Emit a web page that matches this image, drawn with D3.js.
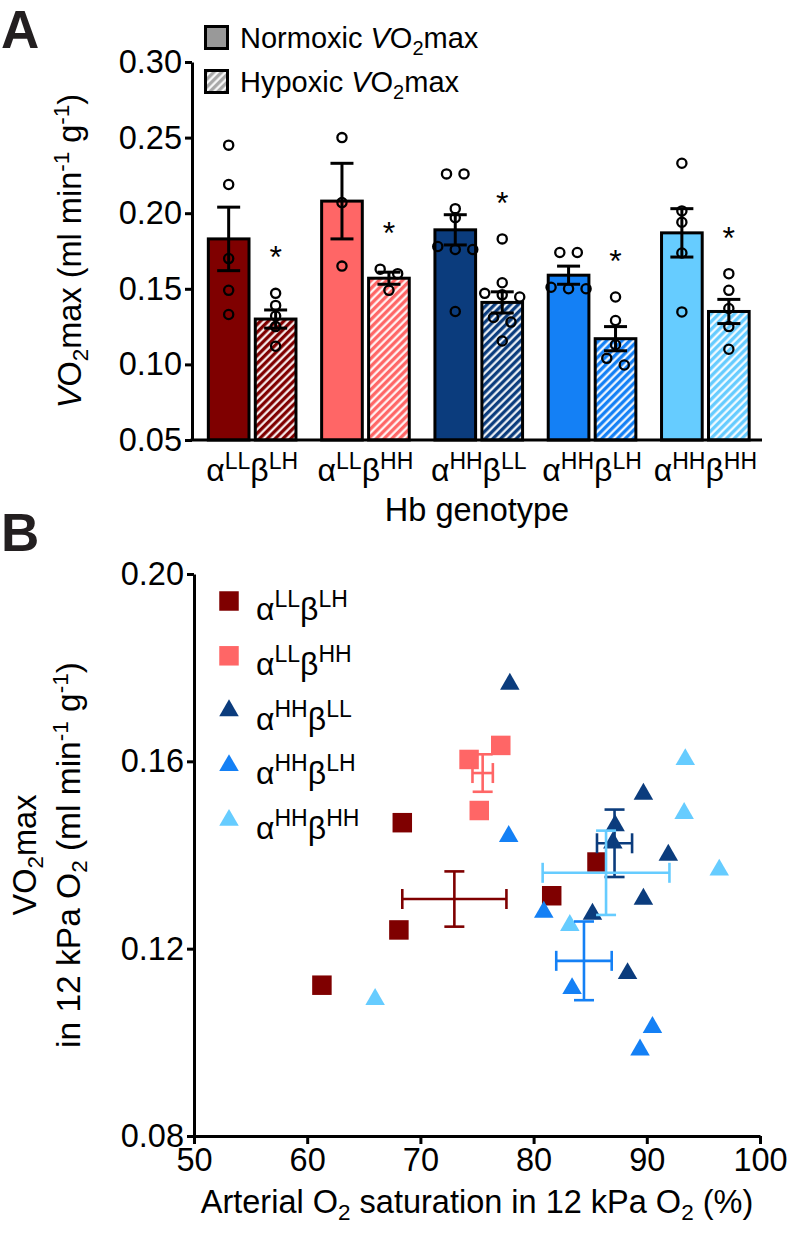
<!DOCTYPE html>
<html><head><meta charset="utf-8">
<script src="https://cdn.jsdelivr.net/npm/d3@7"></script>
<style>body{margin:0;background:#fff} text{font-family:"Liberation Sans",Arial,Helvetica,sans-serif;fill:#000}</style>
</head><body><svg id="c" width="787" height="1236"></svg>
<script>
// ---------- DATA ----------
const genotypes = ["LLLH","LLHH","HHLL","HHLH","HHHH"];
const alphaSup = ["LL","LL","HH","HH","HH"];
const betaSup  = ["LH","HH","LL","LH","HH"];
const colors = ["#7f0000","#ff6666","#0b3c7d","#1480f5","#66ccff"];

// Panel A: VO2max (ml min-1 g-1)
const normMean = [0.183,0.208,0.189,0.159,0.187];
const normSem  = [0.021,0.025,0.010,0.006,0.016];
const hypMean  = [0.130,0.157,0.141,0.117,0.135];
const hypSem   = [0.006,0.004,0.007,0.008,0.008];
const normPoints = [
  [0.245,0.219,0.170,0.149,0.133],
  [0.250,0.207,0.165],
  [0.226,0.226,0.203,0.197,0.178,0.176,0.176,0.135],
  [0.174,0.174,0.151,0.150,0.150],
  [0.233,0.2015,0.194,0.1737,0.1347]
];
const hypPoints = [
  [0.147,0.139,0.132,0.125,0.112],
  [0.163,0.160,0.149],
  [0.183,0.154,0.147,0.146,0.1446,0.131,0.128,0.1155],
  [0.1446,0.129,0.113,0.104,0.0996],
  [0.160,0.149,0.137,0.125,0.110]
];
const yTicksA = [0.05,0.10,0.15,0.20,0.25,0.30];

// Panel B: arterial O2 saturation (%) vs VO2max in 12 kPa O2
const satPoints = [
  [61.3,68.1,68.4,81.6,85.6],
  [77.1,74.3,75.2],
  [77.9,89.7,87.2,87.0,91.9,89.7,85.2,88.3],
  [77.8,80.9,83.4,90.5,89.4],
  [93.4,93.3,96.4,83.2,66.0]
];
const vo2Points = [
  [0.1122,0.124,0.1469,0.1313,0.1385],
  [0.1634,0.1604,0.1495],
  [0.1765,0.153,0.1463,0.1426,0.140,0.1306,0.1274,0.1147],
  [0.144,0.1278,0.1115,0.1032,0.0984],
  [0.1604,0.1489,0.1368,0.125,0.1092]
];
const satMean = [73.0,75.5,87.15,84.45,86.4];
const satSem  = [4.6,0.9,1.55,2.45,5.6];
const vo2Mean = [0.1306,0.1575,0.1425,0.1174,0.1362];
const vo2Sem  = [0.0059,0.0040,0.0072,0.0084,0.0090];
const shapes = ["square","square","triangle","triangle","triangle"];
const xTicksB = [50,60,70,80,90,100];
const yTicksB = [0.08,0.12,0.16,0.20];

// ---------- DRAW ----------
const FS = 32.5, SUB = 22.5;
const svg = d3.select("#c");
const defs = svg.append("defs");
colors.concat(["#a8a8a8"]).forEach((c,i)=>{
  const p = defs.append("pattern").attr("id","hatch"+i).attr("patternUnits","userSpaceOnUse")
    .attr("width",5.5).attr("height",5.5).attr("patternTransform","rotate(45)");
  p.append("rect").attr("width",5.5).attr("height",5.5).attr("fill",c);
  p.append("line").attr("x1",1.5).attr("x2",1.5).attr("y1",0).attr("y2",5.5)
    .attr("stroke","#fff").attr("stroke-width",2.1);
});

function genoLabel(sel, i, big, sup, shift){
  sel.append("tspan").text("α").attr("font-size",big);
  sel.append("tspan").text(alphaSup[i]).attr("font-size",sup).attr("dy",-shift);
  sel.append("tspan").text("β").attr("font-size",big).attr("dy",shift);
  sel.append("tspan").text(betaSup[i]).attr("font-size",sup).attr("dy",-shift);
}

// Panel letters
svg.append("text").attr("x",1).attr("y",48).attr("font-size",53).attr("font-weight","bold").style("fill","#231f20").text("A");
svg.append("text").attr("x",1).attr("y",551).attr("font-size",53).attr("font-weight","bold").style("fill","#231f20").text("B");

// ===== Panel A =====
const axA = 192;
const yA = d3.scaleLinear().domain([0.05,0.30]).range([440,62]);
const xA = d3.scaleBand().domain(genotypes).range([195.5,762]).paddingInner(0.2).paddingOuter(0.1);
const xIn = d3.scaleBand().domain(["norm","hyp"]).range([0,xA.bandwidth()]).paddingInner(0.07);

const gA = svg.append("g");
genotypes.forEach((g,i)=>{
  const bw = xIn.bandwidth();
  [["norm",normMean[i],colors[i]],["hyp",hypMean[i],"url(#hatch"+i+")"]].forEach(([k,m,f])=>{
    gA.append("rect").attr("x",xA(g)+xIn(k)+1.5).attr("width",bw-3)
      .attr("y",yA(m)).attr("height",yA(0.05)-yA(m))
      .attr("fill",f).attr("stroke","#000").attr("stroke-width",3);
  });
});

function swarm(vals, cx){
  const sorted = vals.slice().sort((a,b)=>b-a);
  const rows=[];
  sorted.forEach(v=>{
    const last=rows[rows.length-1];
    if(last && Math.abs(yA(last[0])-yA(v))<8) last.push(v); else rows.push([v]);
  });
  const out=[];
  rows.forEach(r=>r.forEach((v,k)=>out.push({x:cx+(k-(r.length-1)/2)*17.5,y:yA(v)})));
  return out;
}

genotypes.forEach((g,i)=>{
  const bw = xIn.bandwidth();
  [["norm",normMean[i],normSem[i],normPoints[i]],["hyp",hypMean[i],hypSem[i],hypPoints[i]]].forEach(([k,m,s,pts])=>{
    const cx = xA(g)+xIn(k)+bw/2;
    swarm(pts,cx).forEach(p=>{
      gA.append("circle").attr("cx",p.x).attr("cy",p.y).attr("r",4.6)
        .attr("fill","none").attr("stroke","#000").attr("stroke-width",2.3);
    });
    gA.append("line").attr("x1",cx).attr("x2",cx).attr("y1",yA(m-s)).attr("y2",yA(m+s)).attr("stroke","#000").attr("stroke-width",3);
    [m-s,m+s].forEach(v=>gA.append("line").attr("x1",cx-11.5).attr("x2",cx+11.5).attr("y1",yA(v)).attr("y2",yA(v)).attr("stroke","#000").attr("stroke-width",3));
    if(k==="hyp"){
      gA.append("text").attr("x",cx).attr("y",yA(d3.max(pts))-43+18).attr("text-anchor","middle")
        .attr("font-size",32).text("*");
    }
  });
});

const yAxA = gA.append("g").attr("transform",`translate(${axA},0)`)
  .call(d3.axisLeft(yA).tickValues(yTicksA).tickFormat(d3.format(".2f")).tickSize(7).tickSizeOuter(0).tickPadding(3));
yAxA.select(".domain").attr("stroke-width",3);
yAxA.selectAll(".tick line").attr("stroke-width",3);
yAxA.selectAll(".tick text").attr("font-size",FS).style("font-family",'"Liberation Sans",Arial,sans-serif');
gA.append("line").attr("x1",axA-1.5).attr("x2",xA.range()[1]).attr("y1",yA(0.05)).attr("y2",yA(0.05)).attr("stroke","#000").attr("stroke-width",3);
genotypes.forEach((g,i)=>{
  const t = gA.append("text").attr("x",xA(g)+xA.bandwidth()/2).attr("y",481).attr("text-anchor","middle");
  genoLabel(t,i,32,23,12);
});
gA.append("text").attr("x",477).attr("y",521).attr("text-anchor","middle").attr("font-size",FS).text("Hb genotype");

const tA = gA.append("text").attr("transform",`translate(81,${(yA(0.05)+yA(0.30))/2}) rotate(-90)`).attr("text-anchor","middle").attr("font-size",FS);
tA.append("tspan").attr("font-style","italic").text("V");
tA.append("tspan").text("O");
tA.append("tspan").attr("font-size",SUB).attr("dy",7).text("2");
tA.append("tspan").attr("dy",-7).text("max (ml min");
tA.append("tspan").attr("font-size",SUB).attr("dy",-12).text("-1");
tA.append("tspan").attr("dy",12).text(" g");
tA.append("tspan").attr("font-size",SUB).attr("dy",-12).text("-1");
tA.append("tspan").attr("dy",12).text(")");

[["Normoxic ","#999999",48],["Hypoxic ","url(#hatch5)",92]].forEach(([lab,f,by])=>{
  gA.append("rect").attr("x",205.5).attr("y",by-21.5).attr("width",22).attr("height",22)
    .attr("fill",f).attr("stroke","#000").attr("stroke-width",3);
  const t = gA.append("text").attr("x",240).attr("y",by).attr("font-size",29);
  t.append("tspan").text(lab);
  t.append("tspan").attr("font-style","italic").text("V");
  t.append("tspan").text("O");
  t.append("tspan").attr("font-size",20).attr("dy",7).text("2");
  t.append("tspan").attr("dy",-7).text("max");
});

// ===== Panel B =====
const xB = d3.scaleLinear().domain([50,100]).range([194,760]);
const yB = d3.scaleLinear().domain([0.08,0.20]).range([1136,574]);
const gB = svg.append("g");
const sym = {square:d3.symbol().type(d3.symbolSquare).size(380), triangle:d3.symbol().type(d3.symbolTriangle).size(165)};

genotypes.forEach((g,i)=>{
  satPoints[i].forEach((sx,j)=>{
    gB.append("path").attr("d",sym[shapes[i]]()).attr("fill",colors[i])
      .attr("transform",`translate(${xB(sx)},${yB(vo2Points[i][j])})`);
  });
});
genotypes.forEach((g,i)=>{
  const cx=xB(satMean[i]), cy=yB(vo2Mean[i]);
  const x0=xB(satMean[i]-satSem[i]), x1=xB(satMean[i]+satSem[i]);
  const y0=yB(vo2Mean[i]-vo2Sem[i]), y1=yB(vo2Mean[i]+vo2Sem[i]);
  const st = l=>l.attr("stroke",colors[i]).attr("stroke-width",2.6);
  st(gB.append("line").attr("x1",x0).attr("x2",x1).attr("y1",cy).attr("y2",cy));
  st(gB.append("line").attr("x1",cx).attr("x2",cx).attr("y1",y0).attr("y2",y1));
  [x0,x1].forEach(x=>st(gB.append("line").attr("x1",x).attr("x2",x).attr("y1",cy-10).attr("y2",cy+10)));
  [y0,y1].forEach(y=>st(gB.append("line").attr("x1",cx-10).attr("x2",cx+10).attr("y1",y).attr("y2",y)));
});

const xAxB = gB.append("g").attr("transform",`translate(0,${yB(0.08)})`)
  .call(d3.axisBottom(xB).tickValues(xTicksB).tickFormat(d3.format("d")).tickSize(8).tickSizeOuter(0).tickPadding(4));
const yAxB = gB.append("g").attr("transform",`translate(${xB(50)},0)`)
  .call(d3.axisLeft(yB).tickValues(yTicksB).tickFormat(d3.format(".2f")).tickSize(7).tickSizeOuter(0).tickPadding(3));
[xAxB,yAxB].forEach(a=>{
  a.select(".domain").attr("stroke-width",3);
  a.selectAll(".tick line").attr("stroke-width",3);
  a.selectAll(".tick text").attr("font-size",FS).style("font-family",'"Liberation Sans",Arial,sans-serif');
});

const txB = gB.append("text").attr("x",477).attr("y",1213).attr("text-anchor","middle").attr("font-size",FS);
txB.append("tspan").text("Arterial O");
txB.append("tspan").attr("font-size",SUB).attr("dy",7).text("2");
txB.append("tspan").attr("dy",-7).text(" saturation in 12 kPa O");
txB.append("tspan").attr("font-size",SUB).attr("dy",7).text("2");
txB.append("tspan").attr("dy",-7).text(" (%)");

const ycB = (yB(0.08)+yB(0.20))/2;
const ty1 = gB.append("text").attr("transform",`translate(36,${ycB}) rotate(-90)`).attr("text-anchor","middle").attr("font-size",FS);
ty1.append("tspan").text("VO");
ty1.append("tspan").attr("font-size",SUB).attr("dy",7).text("2");
ty1.append("tspan").attr("dy",-7).text("max");
const ty2 = gB.append("text").attr("transform",`translate(80,${ycB}) rotate(-90)`).attr("text-anchor","middle").attr("font-size",33.5);
ty2.append("tspan").text("in 12 kPa O");
ty2.append("tspan").attr("font-size",SUB).attr("dy",7).text("2");
ty2.append("tspan").attr("dy",-7).text(" (ml min");
ty2.append("tspan").attr("font-size",SUB).attr("dy",-12).text("-1");
ty2.append("tspan").attr("dy",12).text(" g");
ty2.append("tspan").attr("font-size",SUB).attr("dy",-12).text("-1");
ty2.append("tspan").attr("dy",12).text(")");

genotypes.forEach((g,i)=>{
  const ly = 601 + i*54.8;
  gB.append("path").attr("d",sym[shapes[i]]()).attr("fill",colors[i]).attr("transform",`translate(229,${ly})`);
  const t = gB.append("text").attr("x",256).attr("y",ly+19);
  genoLabel(t,i,32,23,13);
});
</script></body></html>
